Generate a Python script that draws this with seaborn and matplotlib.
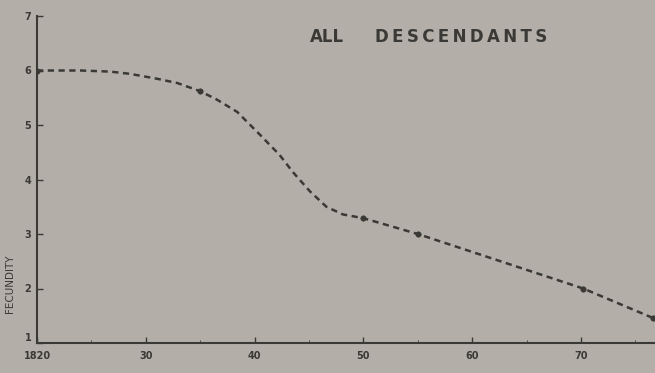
import matplotlib
matplotlib.use("Agg")
import matplotlib.pyplot as plt
import seaborn as sns

# curve (year, fecundity)
curve_year = [1820, 1824.0, 1826.7, 1828.5, 1831.0, 1832.9, 1835.0, 1836.5, 1838.4,
              1840.5, 1842.3, 1843.5, 1845.1, 1846.6, 1848.1, 1850.0, 1855.0, 1870.2, 1876.6]
curve_fec = [6.0, 6.0, 5.98, 5.94, 5.85, 5.77, 5.62, 5.47, 5.24,
             4.82, 4.45, 4.14, 3.78, 3.50, 3.36, 3.29, 3.0, 2.0, 1.46]

# plotted observation points
obs_year = [1820, 1835, 1850, 1855, 1870.2, 1876.6]
obs_fec = [6.0, 5.62, 3.29, 3.0, 2.0, 1.46]

xtick_pos = [1820, 1830, 1840, 1850, 1860, 1870]
xtick_lab = ["1820", "30", "40", "50", "60", "70"]
ytick_pos = [1, 2, 3, 4, 5, 6, 7]

bg = "#b3afa8"
ink = "#3b3936"

sns.set_style("ticks")
plt.rcParams['font.family'] = ['DejaVu Sans']

fig = plt.figure(figsize=(6.55, 3.73), dpi=100, facecolor=bg)
ax = fig.add_axes([37/655, 30/373, 1 - 37/655, 327/373])
ax.set_facecolor(bg)

sns.lineplot(x=curve_year, y=curve_fec, ax=ax, color=ink, lw=1.8,
             linestyle=(0, (2.5, 1.8)), sort=False)
sns.scatterplot(x=obs_year, y=obs_fec, ax=ax, color=ink, s=16, edgecolor=ink, zorder=3)

ax.set_xlim(1820, 1820 + (655 - 37) / 10.88)
ax.set_ylim(1, 7)

for s in ["top", "right"]:
    ax.spines[s].set_visible(False)
for s in ["left", "bottom"]:
    ax.spines[s].set_color(ink)
    ax.spines[s].set_linewidth(1.5)

ax.set_xticks(xtick_pos)
ax.set_xticklabels(xtick_lab)
ax.set_xticks([1825, 1835, 1845, 1855, 1865, 1875], minor=True)
ax.set_yticks(ytick_pos)
ax.tick_params(axis="both", direction="in", colors=ink, labelsize=7, width=1, length=4)
ax.tick_params(axis="x", pad=6)
ax.tick_params(axis="y", pad=4)
ax.tick_params(axis="x", which="minor", direction="in", colors=ink, length=2)
for lab in ax.get_xticklabels() + ax.get_yticklabels():
    lab.set_fontweight("bold")
ax.get_yticklabels()[0].set_va("bottom")

ax.set_ylabel("FECUNDITY", fontsize=7.5, color=ink)
ax.yaxis.set_label_coords(-0.036, 0.18)

ax.text(0.442, 0.936, "ALL", transform=ax.transAxes, fontsize=12,
        fontweight="bold", color=ink, ha="left", va="center")
ax.text(0.547, 0.936, "\u2009".join("DESCENDANTS"), transform=ax.transAxes, fontsize=12,
        fontweight="bold", color=ink, ha="left", va="center")

fig.savefig("out.png", dpi=100, facecolor=bg)
